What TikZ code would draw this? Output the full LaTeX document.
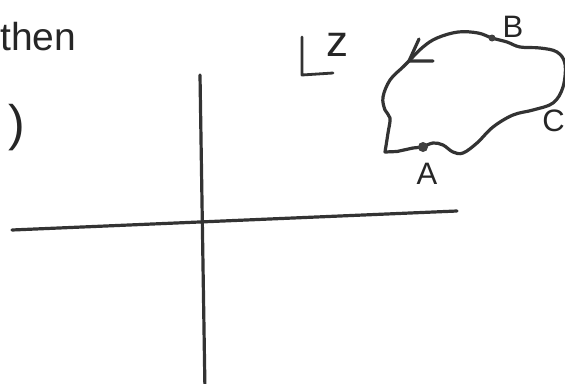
\documentclass[tikz,border=0pt]{standalone}
\usepackage{fontspec}
\setmainfont{Liberation Sans}
\usetikzlibrary{arrows.meta}
\begin{document}
\begin{tikzpicture}[x=1pt,y=-1pt,
    pen/.style={line width=3.2pt,line cap=round,line join=round,draw=black!80},
    dot/.style={circle,fill=black!75,inner sep=0pt,minimum size=#1},
    lbl/.style={font=\fontsize{31}{31}\selectfont,inner sep=0pt,text=black!85}]
  \useasboundingbox (0,0) rectangle (565,383);
  % axes
  \coordinate (xl) at (12,230); \coordinate (xr) at (457,211);
  \coordinate (yt) at (200,75); \coordinate (yb) at (205,392);
  \draw[pen] (xl) -- (xr);
  \draw[pen] (yt) -- (yb);
  % words on the left
  \node[anchor=base west,inner sep=0pt,font=\fontsize{39}{39}\selectfont,text=black!85] (then) at (0,50) {then};
  \node[inner sep=0pt,font=\fontsize{50}{50}\selectfont,text=black!85] (par) at (17,128) {)};
  % plane sign
  \coordinate (lt) at (302,37); \coordinate (lc) at (302,75); \coordinate (lr) at (333,73);
  \draw[pen,line width=2.8pt] (lt) -- (lc) -- (lr);
  \node[inner sep=0pt,font=\fontsize{44}{44}\selectfont,text=black!85] (z) at (337,45) {z};
  % contour
  \coordinate (tip) at (409,61);
  \coordinate (barb1) at (419,39); \coordinate (barb2) at (433,61);
  \draw[pen] plot[smooth,tension=0.6] coordinates
    {(423,147) (433,143) (443,145) (453,152) (463,153) (477,143) (493,127) (513,115)
     (533,110) (553,103) (563,87) (565,64) (557,52) (540,48) (520,47) (507,42)
     (492,38) (478,33) (458,32) (437,38) (423,47) (409,61)};
  \draw[pen] plot[smooth,tension=0.6] coordinates
    {(409,61) (403,67) (390,80) (383,97) (385,110) (390,118) (388,133) (385,152)}
    -- (397,151.5) -- (413,148) -- (423,147);
  \draw[pen] (barb1) -- (tip) -- (barb2);
  \node[dot=10pt] (A) at (423,147) {};
  \node[dot=7pt] (B) at (492,38) {};
  \node[lbl] (labA) at (427,174) {A};
  \node[lbl] (labB) at (513,27) {B};
  \node[lbl,anchor=east] (labC) at (565,121) {C};
\end{tikzpicture}
\end{document}
